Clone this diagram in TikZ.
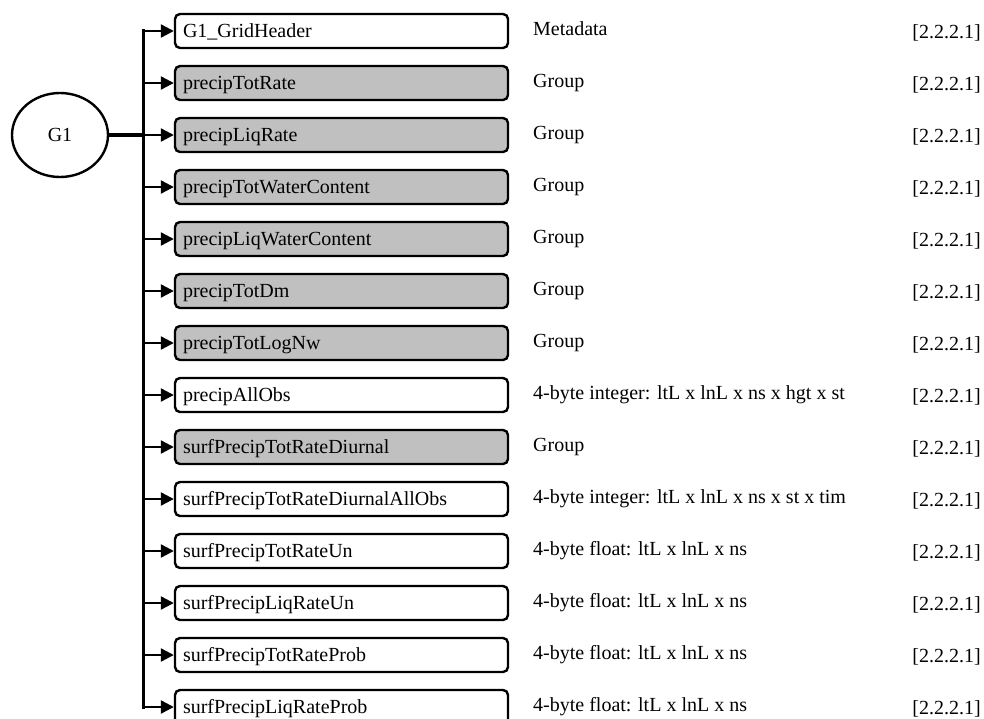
\documentclass[tikz,border=0pt]{standalone}
\usepackage{fontspec}
\setmainfont{Liberation Serif}
\usetikzlibrary{arrows.meta,shapes.geometric}
\definecolor{grp}{HTML}{C0C0C0}
\begin{document}
\begin{tikzpicture}[x=1pt,y=-1pt,
  font=\fontsize{20}{24}\selectfont,
  box/.style={draw=black, line width=2.4pt, rounded corners=5pt,
    minimum width=333pt, minimum height=34pt, inner xsep=8pt, inner ysep=0pt,
    text width=317pt, align=left, text height=13.5pt, text depth=0pt},
  trunk/.style={draw=black, line width=3.6pt, line cap=rect},
  branch/.style={draw=black, line width=2.3pt, -{Triangle[length=13pt,width=13pt]}},
  typetxt/.style={anchor=base west, inner sep=0pt},
  reftxt/.style={anchor=base east, inner sep=0pt}
]
\useasboundingbox (0,0) rectangle (984,718);
\node[draw=black, ellipse, line width=2.4pt, minimum width=96pt, minimum height=84pt, inner sep=0pt] (g1) at (60,135) {G1};
\foreach \i/\nm/\fc/\ty in {
  1/G1\_GridHeader/white/Metadata,
  2/precipTotRate/grp/Group,
  3/precipLiqRate/grp/Group,
  4/precipTotWaterContent/grp/Group,
  5/precipLiqWaterContent/grp/Group,
  6/precipTotDm/grp/Group,
  7/precipTotLogNw/grp/Group,
  8/precipAllObs/white/4-byte integer: ltL x lnL x ns x hgt x st,
  9/surfPrecipTotRateDiurnal/grp/Group,
  10/surfPrecipTotRateDiurnalAllObs/white/4-byte integer: ltL x lnL x ns x st x tim,
  11/surfPrecipTotRateUn/white/4-byte float: ltL x lnL x ns,
  12/surfPrecipLiqRateUn/white/4-byte float: ltL x lnL x ns,
  13/surfPrecipTotRateProb/white/4-byte float: ltL x lnL x ns,
  14/surfPrecipLiqRateProb/white/4-byte float: ltL x lnL x ns}{
  \pgfmathsetmacro{\yc}{31+52*(\i-1)}
  \coordinate (t\i) at (143.5,\yc);
  \node[box, fill=\fc] (b\i) at (341.5,\yc) {\nm};
  \node[typetxt] (ty\i) at (533,\yc+4.5) {\ty};
  \node[reftxt] (rf\i) at (981,\yc+7) {[2.2.2.1]};
}
\draw[trunk] (t1) -- (t14);
\draw[trunk, line cap=butt] (g1.east) -- (t3);
\foreach \i in {1,...,14}{
  \draw[branch] (t\i) -- (b\i.west);
}
\end{tikzpicture}
\end{document}
